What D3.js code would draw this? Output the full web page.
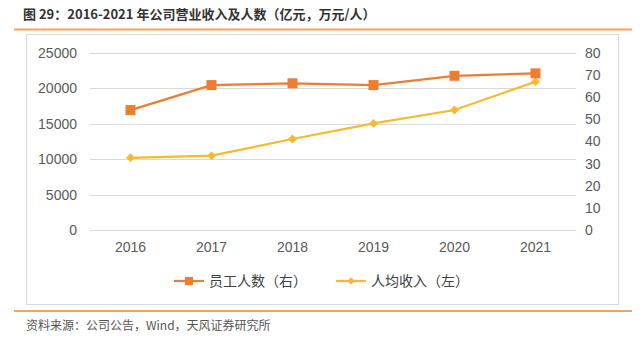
<!DOCTYPE html>
<html>
<head>
<meta charset="utf-8">
<script src="https://cdn.jsdelivr.net/npm/d3@7"></script>
<style>
	body { margin: 0; background: #fff; }
	svg { display: block; font-family: "Liberation Sans", Arial, "Noto Sans CJK SC", sans-serif; }
</style>
</head>
<body>
<svg id="chart" width="640" height="340"></svg>
<script>
	'use strict';

	var years = ['2016', '2017', '2018', '2019', '2020', '2021'];
	var staff = [54.2, 65.5, 66.3, 65.5, 69.7, 70.8];          // 员工人数, right axis
	var revenuePerHead = [10200, 10500, 12850, 15050, 16950, 20950]; // 人均收入, left axis
	var leftTicks = [0, 5000, 10000, 15000, 20000, 25000];
	var rightTicks = [0, 10, 20, 30, 40, 50, 60, 70, 80];

	var svg = d3.select('#chart');
	var orange = '#ED7D31', yellow = '#F7B92E', cjk = '"Noto Sans CJK SC", sans-serif';

	// title + rules
	svg.append('text').attr('x', 23).attr('y', 19)
		.style('font-family', cjk).style('font-size', '13px').style('font-weight', 'bold').attr('fill', '#333')
		.text('图 29：2016-2021 年公司营业收入及人数（亿元，万元/人）');
	svg.append('line').attr('x1', 14).attr('x2', 632).attr('y1', 29.5).attr('y2', 29.5)
		.attr('stroke', '#F0A45E').attr('stroke-width', 2);
	svg.append('rect').attr('x', 26.5).attr('y', 34.5).attr('width', 592).attr('height', 270)
		.attr('fill', 'none').attr('stroke', '#d9d9d9');
	svg.append('line').attr('x1', 14).attr('x2', 632).attr('y1', 311).attr('y2', 311)
		.attr('stroke', '#F0A45E').attr('stroke-width', 2);
	svg.append('text').attr('x', 26).attr('y', 330)
		.style('font-family', cjk).style('font-size', '12px').attr('fill', '#555')
		.text('资料来源：公司公告，Wind，天风证券研究所');

	var x = d3.scaleBand().domain(years).range([90, 576]);
	var yL = d3.scaleLinear().domain([0, 25000]).range([230, 53]);
	var yR = d3.scaleLinear().domain([0, 80]).range([230, 53]);

	// gridlines
	svg.append('g').selectAll('line').data(leftTicks).join('line')
		.attr('x1', 90).attr('x2', 576)
		.attr('y1', function (d) { return Math.round(yL(d)) + 0.5; })
		.attr('y2', function (d) { return Math.round(yL(d)) + 0.5; })
		.attr('stroke', '#d9d9d9').attr('stroke-width', 1.2);

	var axisL = svg.append('g').attr('transform', 'translate(90,0)')
		.call(d3.axisLeft(yL).tickValues(leftTicks).tickFormat(d3.format('d')).tickSize(0).tickPadding(13));
	var axisR = svg.append('g').attr('transform', 'translate(576,0)')
		.call(d3.axisRight(yR).tickValues(rightTicks).tickSize(0).tickPadding(9));
	var axisX = svg.append('g').attr('transform', 'translate(0,230)')
		.call(d3.axisBottom(x).tickSize(0).tickPadding(12));
	[axisL, axisR, axisX].forEach(function (a) {
		a.select('.domain').remove();
		a.selectAll('text').style('font-size', '14px').style('font-family', '"Liberation Sans", Arial, sans-serif').attr('fill', '#595959');
	});

	var cx = function (d, i) { return x(years[i]) + x.bandwidth() / 2; };

	// yellow series (left axis)
	svg.append('path').datum(revenuePerHead)
		.attr('fill', 'none').attr('stroke', yellow).attr('stroke-width', 2.2)
		.attr('d', d3.line().x(cx).y(function (d) { return yL(d); }));
	svg.append('g').selectAll('path').data(revenuePerHead).join('path')
		.attr('transform', function (d, i) { return 'translate(' + cx(d, i) + ',' + yL(d) + ')'; })
		.attr('d', d3.symbol(d3.symbolDiamond2, 50)).attr('fill', yellow);

	// orange series (right axis)
	svg.append('path').datum(staff)
		.attr('fill', 'none').attr('stroke', orange).attr('stroke-width', 2.2)
		.attr('d', d3.line().x(cx).y(function (d) { return yR(d); }));
	svg.append('g').selectAll('rect').data(staff).join('rect')
		.attr('x', function (d, i) { return cx(d, i) - 5; })
		.attr('y', function (d) { return yR(d) - 5; })
		.attr('width', 10).attr('height', 10).attr('fill', orange);

	// legend
	var legend = [
		{label: '员工人数（右）', color: orange, shape: 'square', x: 174},
		{label: '人均收入（左）', color: yellow, shape: 'diamond', x: 336}
	];
	var lg = svg.append('g').selectAll('g').data(legend).join('g')
		.attr('transform', function (d) { return 'translate(' + d.x + ',281)'; });
	lg.append('line').attr('x1', 0).attr('x2', 30).attr('stroke', function (d) { return d.color; }).attr('stroke-width', 2.2);
	lg.append('path')
		.attr('transform', 'translate(15,0)')
		.attr('d', function (d) { return d.shape === 'square' ? 'M-4,-4H4V4H-4Z' : d3.symbol(d3.symbolDiamond2, 36)(); })
		.attr('fill', function (d) { return d.color; });
	lg.append('text').attr('x', 35).attr('y', 5)
		.style('font-family', cjk).style('font-size', '14px').attr('fill', '#404040')
		.text(function (d) { return d.label; });
</script>
</body>
</html>
